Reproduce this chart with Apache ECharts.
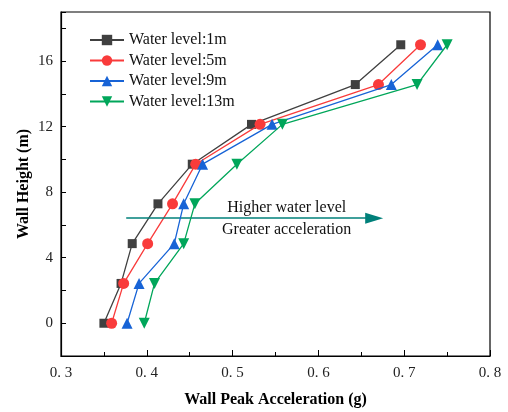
<!DOCTYPE html>
<html><head><meta charset="utf-8">
<script src="https://cdn.jsdelivr.net/npm/echarts@6/dist/echarts.min.js"></script>
<style>html,body{margin:0;padding:0;background:#fff}#c{width:508px;height:412px}</style>
</head><body><div id="c"></div>
<script>
var heights = [0, 2.43, 4.86, 7.29, 9.71, 12.14, 14.57, 17];
var seriesNames = ['Water level:1m', 'Water level:5m', 'Water level:9m', 'Water level:13m'];
var acc1m  = [0.350, 0.370, 0.383, 0.413, 0.453, 0.522, 0.643, 0.696];
var acc5m  = [0.359, 0.373, 0.401, 0.430, 0.457, 0.532, 0.670, 0.719];
var acc9m  = [0.377, 0.391, 0.432, 0.443, 0.465, 0.546, 0.685, 0.739];
var acc13m = [0.397, 0.409, 0.443, 0.456, 0.505, 0.558, 0.715, 0.750];
var arrowStart = [0.376, 6.41];
var arrowEnd = [0.665, 6.41];
var noteTop = {text: 'Higher water level', coord: [0.563, 7.04]};
var noteBottom = {text: 'Greater acceleration', coord: [0.563, 5.7]};

var colors = ['#404040', '#f93b3b', '#1763d6', '#00a65a'];
var symbols = ['rect', 'circle', 'triangle', 'path://M0,0 L10,0 L5,9 Z'];
var sizes = [9, 11, 11, 11];
var values = [acc1m, acc5m, acc9m, acc13m];
var font = 'Liberation Serif';

var series = values.map(function (arr, i) {
  return {
    name: seriesNames[i], type: 'line',
    data: arr.map(function (v, j) { return [v, heights[j]]; }),
    symbol: symbols[i], symbolSize: sizes[i], showAllSymbol: true,
    itemStyle: {color: colors[i]},
    lineStyle: {color: colors[i], width: 1.3},
    z: 3 + i, animation: false
  };
});
series[0].markLine = {
  silent: true, animation: false,
  symbol: ['none', 'triangle'], symbolSize: [[1, 1], [11, 18]],
  lineStyle: {color: '#00807a', width: 1.5, type: 'solid'},
  itemStyle: {color: '#00807a'},
  label: {show: false},
  data: [[{coord: arrowStart, symbol: 'none'}, {coord: arrowEnd, symbol: 'triangle', symbolSize: [11, 18]}]]
};
series[0].markPoint = {
  silent: true, animation: false, symbol: 'circle', symbolSize: 0,
  label: {show: true, color: '#111', fontFamily: font, fontSize: 16, position: 'inside', formatter: '{b}'},
  data: [
    {name: noteTop.text, coord: noteTop.coord},
    {name: noteBottom.text, coord: noteBottom.coord}
  ]
};

var chart = echarts.init(document.getElementById('c'), null, {renderer: 'canvas'});
chart.setOption({
  animation: false,
  grid: {left: 61, right: 18, top: 12, bottom: 56, outerBoundsMode: 'none', containLabel: false,
    show: true, borderColor: '#000', borderWidth: 1.2, backgroundColor: 'transparent'},
  legend: {
    orient: 'vertical', left: 84, top: 27, itemWidth: 34, itemHeight: 13, itemGap: 4.5,
    textStyle: {fontFamily: font, fontSize: 16, color: '#111'},
    data: seriesNames
  },
  xAxis: {
    type: 'value', min: 0.3, max: 0.8, interval: 0.1,
    name: 'Wall Peak Acceleration (g)', nameLocation: 'middle', nameGap: 36, nameMoveOverlap: false,
    nameTextStyle: {fontFamily: font, fontSize: 16, fontWeight: 'bold', color: '#000'},
    axisLine: {show: true, onZero: false, lineStyle: {color: '#000', width: 1.2}},
    axisTick: {show: true, inside: true, length: 6, lineStyle: {color: '#000'}},
    minorTick: {show: true, splitNumber: 2, length: 4, lineStyle: {color: '#000'}},
    splitLine: {show: false},
    axisLabel: {fontFamily: font, fontSize: 15, color: '#222', margin: 10,
      formatter: function (v) { return v.toFixed(1).replace('.', '. '); }}
  },
  yAxis: {
    type: 'value', min: -2, max: 19, interval: 2,
    name: 'Wall Height (m)', nameLocation: 'middle', nameGap: 29, nameMoveOverlap: false,
    nameTextStyle: {fontFamily: font, fontSize: 16, fontWeight: 'bold', color: '#000'},
    axisLine: {show: true, onZero: false, lineStyle: {color: '#000', width: 1.2}},
    axisTick: {show: true, inside: true, length: 5, lineStyle: {color: '#000'}},
    splitLine: {show: false},
    axisLabel: {fontFamily: font, fontSize: 15, color: '#222', margin: 8,
      formatter: function (v) { return (v % 4 === 0) ? String(v) : ''; }}
  },
  series: series
});
</script></body></html>
